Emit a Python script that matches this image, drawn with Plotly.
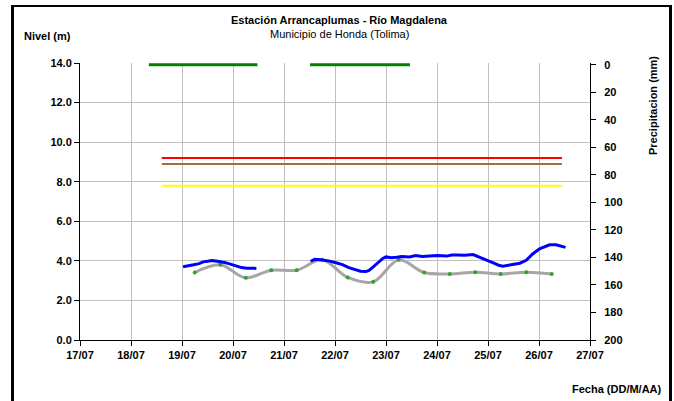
import plotly.graph_objects as go
import pandas as pd

# ---------------- data ----------------
level_times = [
    "2011-07-19 00:30", "2011-07-19 03:00", "2011-07-19 05:30", "2011-07-19 08:00",
    "2011-07-19 10:00", "2011-07-19 12:00", "2011-07-19 14:00", "2011-07-19 16:00",
    "2011-07-19 18:00", "2011-07-19 20:00", "2011-07-19 22:00", "2011-07-20 00:00",
    "2011-07-20 02:00", "2011-07-20 04:00", "2011-07-20 06:30", "2011-07-20 09:00",
    "2011-07-20 11:00", "2011-07-21 00:00",
    "2011-07-21 12:30", "2011-07-21 14:30", "2011-07-21 17:00", "2011-07-21 19:00",
    "2011-07-21 21:00", "2011-07-22 00:00", "2011-07-22 03:30", "2011-07-22 06:30",
    "2011-07-22 10:00", "2011-07-22 12:00", "2011-07-22 14:30", "2011-07-22 16:00",
    "2011-07-22 18:00", "2011-07-22 20:30", "2011-07-22 22:30", "2011-07-23 00:00",
    "2011-07-23 02:30", "2011-07-23 05:00", "2011-07-23 07:30", "2011-07-23 11:00",
    "2011-07-23 14:00", "2011-07-23 17:00", "2011-07-23 20:30", "2011-07-24 00:00",
    "2011-07-24 04:30", "2011-07-24 07:00", "2011-07-24 09:30", "2011-07-24 13:00",
    "2011-07-24 17:00", "2011-07-24 20:00", "2011-07-24 23:00", "2011-07-25 02:30",
    "2011-07-25 05:00", "2011-07-25 07:00", "2011-07-25 09:30", "2011-07-25 12:00",
    "2011-07-25 15:00", "2011-07-25 18:00", "2011-07-25 21:00", "2011-07-26 00:15",
    "2011-07-26 03:00", "2011-07-26 05:00", "2011-07-26 08:00", "2011-07-26 10:30",
    "2011-07-26 12:30",
]
level_values = [
    3.70, 3.74, 3.80, 3.86,
    3.95, 3.98, 4.02, 3.99,
    3.96, 3.92, 3.86, 3.78,
    3.70, 3.66, 3.63, 3.64,
    3.62, None,
    3.98, 4.08, 4.06, 4.04,
    4.00, 3.92, 3.81, 3.66,
    3.52, 3.48, 3.46, 3.52,
    3.70, 3.93, 4.12, 4.20,
    4.16, 4.18, 4.22, 4.20,
    4.27, 4.22, 4.25, 4.27,
    4.24, 4.30, 4.30, 4.28,
    4.32, 4.17, 4.05, 3.90,
    3.78, 3.73, 3.78, 3.83,
    3.88, 4.03, 4.35, 4.61,
    4.75, 4.81, 4.81, 4.75,
    4.68,
]

manual_times = [
    "2011-07-19 06:00", "2011-07-19 18:00", "2011-07-20 06:00", "2011-07-20 18:00",
    "2011-07-21 06:00", "2011-07-21 18:00", "2011-07-22 06:00", "2011-07-22 18:00",
    "2011-07-23 06:00", "2011-07-23 18:00", "2011-07-24 06:00", "2011-07-24 18:00",
    "2011-07-25 06:00", "2011-07-25 18:00", "2011-07-26 06:00",
]
manual_values = [3.41, 3.80, 3.14, 3.53, 3.53, 4.05, 3.16, 2.94,
                 4.05, 3.41, 3.34, 3.43, 3.34, 3.43, 3.34]

threshold_times = ["2011-07-18 14:30", "2011-07-26 10:48"]
threshold_red = [9.2, 9.2]
threshold_brown = [8.9, 8.9]
threshold_yellow = [7.8, 7.8]

precip_times = ["2011-07-18 08:24", "2011-07-19 00:00", "2011-07-20 00:00", "2011-07-20 11:30",
                "2011-07-21 00:00",
                "2011-07-21 12:15", "2011-07-22 00:00", "2011-07-23 00:00", "2011-07-23 11:15"]
precip_values = [0, 0, 0, 0, None, 0, 0, 0, 0]

x_range = ["2011-07-17", "2011-07-27"]
left_ticks = [0, 2, 4, 6, 8, 10, 12, 14]
right_ticks = [0, 20, 40, 60, 80, 100, 120, 140, 160, 180, 200]

# ---------------- figure ----------------
W, H = 674, 401
L, R, T, B = 80, 84, 63, 61
PW, PH = W - L - R, H - T - B


def px(x):
    return (x - L) / PW


def py(y):
    return (H - B - y) / PH


FONT = "Liberation Sans, Arial, sans-serif"

fig = go.Figure()

fig.add_trace(go.Scatter(x=pd.to_datetime(precip_times), y=precip_values, yaxis="y2",
                         mode="lines", line=dict(color="#008000", width=3),
                         connectgaps=False, showlegend=False, hoverinfo="skip"))

for vals, col in [(threshold_red, "#FF0000"), (threshold_brown, "#A0703C"),
                  (threshold_yellow, "#FFFF00")]:
    fig.add_trace(go.Scatter(x=pd.to_datetime(threshold_times), y=vals, mode="lines",
                             line=dict(color=col, width=2), showlegend=False))

fig.add_trace(go.Scatter(x=pd.to_datetime(manual_times), y=manual_values,
                         mode="lines+markers",
                         line=dict(color="#A6A6A6", width=3, shape="spline", smoothing=1.0),
                         marker=dict(color="#33A033", size=4),
                         showlegend=False))

fig.add_trace(go.Scatter(x=pd.to_datetime(level_times), y=level_values, mode="lines",
                         line=dict(color="#0000FF", width=3), connectgaps=False,
                         showlegend=False))

tickfont = dict(family=FONT, size=11, color="black", weight="bold")

fig.update_layout(
    width=W, height=H, autosize=False,
    margin=dict(l=L, r=R, t=T, b=B, pad=0),
    paper_bgcolor="white", plot_bgcolor="white",
    font=dict(family=FONT, color="black"),
    xaxis=dict(type="date", range=x_range, dtick=86400000, tick0="2011-07-17",
               tickformat="%d/%m", showgrid=True, gridcolor="#C0C0C0", gridwidth=1,
               showline=True, linecolor="black", linewidth=1,
               ticks="outside", ticklen=5, tickcolor="black", tickfont=tickfont,
               zeroline=False),
    yaxis=dict(range=[0, 14], tickvals=left_ticks, tickformat=".1f",
               showgrid=True, gridcolor="#C0C0C0", gridwidth=1,
               showline=True, linecolor="black", linewidth=1,
               ticks="outside", ticklen=5, tickcolor="black", tickfont=tickfont,
               zeroline=False),
    yaxis2=dict(overlaying="y", side="right", range=[200, -1.2], tickvals=right_ticks,
                showgrid=False, showline=True, linecolor="black", linewidth=1,
                ticks="outside", ticklen=5, tickcolor="black", tickfont=tickfont,
                ticklabelstandoff=6, zeroline=False),
)

fig.add_annotation(text="<b>Estación Arrancaplumas - Río Magdalena</b>", xref="paper", yref="paper",
                   x=px(339), y=py(20), showarrow=False, xanchor="center", yanchor="middle",
                   font=dict(family=FONT, size=11, color="black"))
fig.add_annotation(text="Municipio de Honda (Tolima)", xref="paper", yref="paper",
                   x=px(339), y=py(34), showarrow=False, xanchor="center", yanchor="middle",
                   font=dict(family=FONT, size=11, color="black"))
fig.add_annotation(text="<b>Nivel (m)</b>", xref="paper", yref="paper",
                   x=px(22), y=py(36), showarrow=False, xanchor="left", yanchor="middle",
                   font=dict(family=FONT, size=11, color="black"))
fig.add_annotation(text="<b>Precipitacion (mm)</b>", xref="paper", yref="paper",
                   x=px(653), y=py(106), showarrow=False, xanchor="center", yanchor="middle",
                   textangle=-90, font=dict(family=FONT, size=11, color="black"))
fig.add_annotation(text="<b>Fecha (DD/M/AA)</b>", xref="paper", yref="paper",
                   x=px(664), y=py(389), showarrow=False, xanchor="right", yanchor="middle",
                   font=dict(family=FONT, size=11, color="black"))

# black frame (left, top, right)
for x0, y0, x1, y1 in [(11, 5, 14, H), (11, 5, 672, 7), (669, 5, 672, H)]:
    fig.add_shape(type="rect", xref="paper", yref="paper",
                  x0=px(x0), x1=px(x1), y0=py(y1), y1=py(y0),
                  fillcolor="black", line=dict(width=0), layer="above")

fig.write_html("out.html", config={"displayModeBar": False},
               post_script="document.body.style.margin='0';document.body.style.overflow='hidden';")
